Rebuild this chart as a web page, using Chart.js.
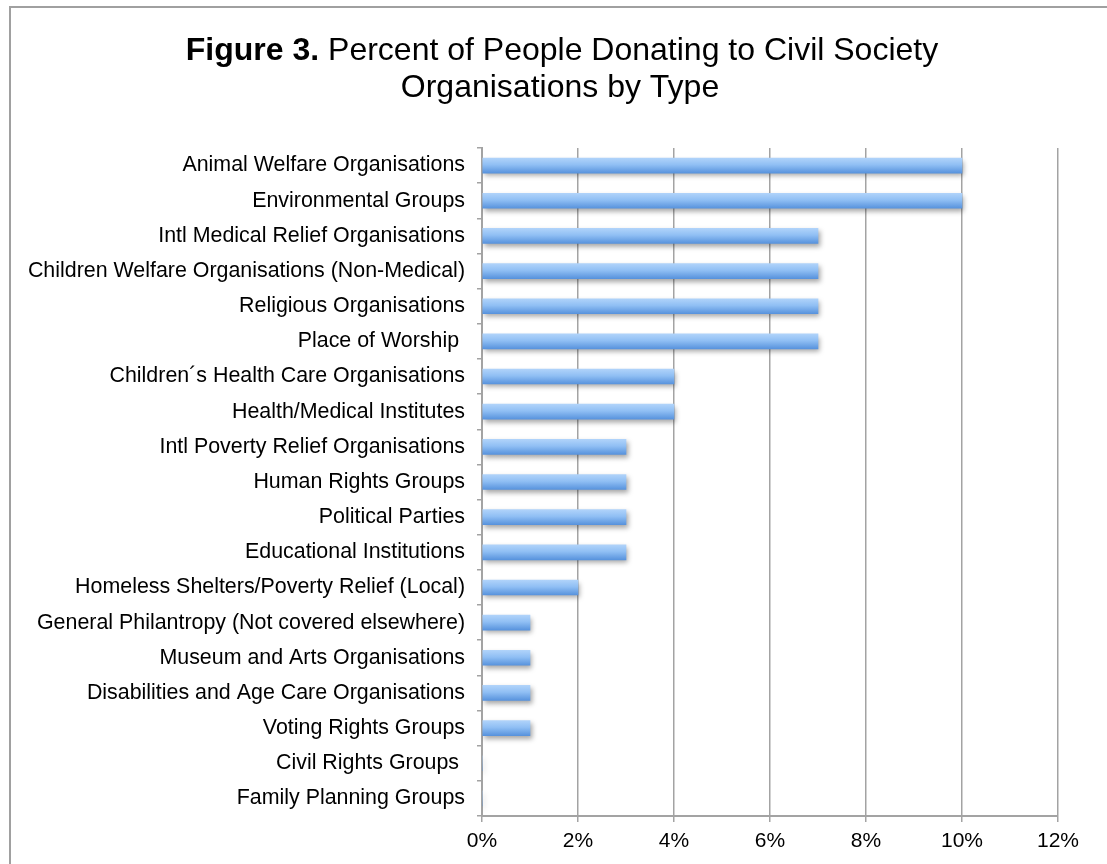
<!DOCTYPE html>
<html>
<head>
<meta charset="utf-8">
<script src="https://cdn.jsdelivr.net/npm/chart.js@4.4.1/dist/chart.umd.min.js"></script>
<style>
  html, body { margin: 0; padding: 0; background: #ffffff; }
  canvas { display: block; }
</style>
</head>
<body>
<canvas id="c" width="1107" height="864"></canvas>
<script>
const titleBold = "Figure 3.";
const titleLine1 = " Percent of People Donating to Civil Society";
const titleLine2 = "Organisations by Type";

const categories = [
  "Animal Welfare Organisations",
  "Environmental Groups",
  "Intl Medical Relief Organisations",
  "Children Welfare Organisations (Non-Medical)",
  "Religious Organisations",
  "Place of Worship ",
  "Children´s Health Care Organisations",
  "Health/Medical Institutes",
  "Intl Poverty Relief Organisations",
  "Human Rights Groups",
  "Political Parties",
  "Educational Institutions",
  "Homeless Shelters/Poverty Relief (Local)",
  "General Philantropy (Not covered elsewhere)",
  "Museum and Arts Organisations",
  "Disabilities and Age Care Organisations",
  "Voting Rights Groups",
  "Civil Rights Groups ",
  "Family Planning Groups"
];

const percentDonating = [10, 10, 7, 7, 7, 7, 4, 4, 3, 3, 3, 3, 2, 1, 1, 1, 1, 0, 0];

const xTickValues = [0, 2, 4, 6, 8, 10, 12];

const FONT = "'Liberation Sans', Arial, Helvetica, sans-serif";

const framePlugin = {
  id: 'frame',
  beforeDraw(chart) {
    const ctx = chart.ctx;
    ctx.save();
    ctx.fillStyle = '#ffffff';
    ctx.fillRect(0, 0, chart.width, chart.height);
    ctx.strokeStyle = '#a0a0a0';
    ctx.lineWidth = 2;
    ctx.beginPath();
    ctx.moveTo(10, chart.height + 5);
    ctx.lineTo(10, 7);
    ctx.lineTo(chart.width + 5, 7);
    ctx.stroke();
    ctx.restore();
  }
};

const titlePlugin = {
  id: 'twoStyleTitle',
  afterDraw(chart) {
    const ctx = chart.ctx;
    ctx.save();
    ctx.fillStyle = '#000000';
    ctx.textBaseline = 'alphabetic';
    const size = 32;
    const boldFont = 'bold ' + size + 'px ' + FONT;
    const regFont = size + 'px ' + FONT;
    ctx.font = boldFont;
    const wB = ctx.measureText(titleBold).width;
    ctx.font = regFont;
    const wR = ctx.measureText(titleLine1).width;
    const cx = 562;
    const x0 = cx - (wB + wR) / 2;
    ctx.textAlign = 'left';
    ctx.font = boldFont;
    ctx.fillText(titleBold, x0, 60);
    ctx.font = regFont;
    ctx.fillText(titleLine1, x0 + wB, 60);
    ctx.textAlign = 'center';
    ctx.fillText(titleLine2, 560, 97);
    ctx.restore();
  }
};

const shadowPlugin = {
  id: 'barShadow',
  beforeDatasetsDraw(chart) {
    const ctx = chart.ctx;
    ctx.save();
    ctx.shadowColor = 'rgba(0,0,0,0.35)';
    ctx.shadowBlur = 5;
    ctx.shadowOffsetX = 2;
    ctx.shadowOffsetY = 3;
  },
  afterDatasetsDraw(chart) {
    chart.ctx.restore();
  }
};

function barGradient(context) {
  const chart = context.chart;
  const yScale = chart.scales && chart.scales.y;
  if (!yScale || context.type !== 'data') return '#8dbdf3';
  const c = yScale.getPixelForValue(context.dataIndex);
  if (!isFinite(c)) return '#8dbdf3';
  const g = chart.ctx.createLinearGradient(0, c - 7.5, 0, c + 7.5);
  g.addColorStop(0, '#b0d3fa');
  g.addColorStop(0.45, '#90bff4');
  g.addColorStop(1, '#5893dd');
  return g;
}

new Chart(document.getElementById('c'), {
  type: 'bar',
  data: {
    labels: categories,
    datasets: [{
      data: percentDonating,
      backgroundColor: barGradient,
      borderWidth: 0,
      barThickness: 15,
      categoryPercentage: 1.0
    }]
  },
  plugins: [framePlugin, shadowPlugin, titlePlugin],
  options: {
    indexAxis: 'y',
    responsive: false,
    animation: false,
    devicePixelRatio: 1,
    layout: { padding: { top: 148, left: 0, right: 49, bottom: 0 } },
    plugins: {
      legend: { display: false },
      title: { display: false },
      tooltip: { enabled: false }
    },
    scales: {
      x: {
        min: 0,
        max: 12,
        afterFit(scale) { scale.height = 48; },
        afterBuildTicks(scale) { scale.ticks = xTickValues.map(v => ({ value: v })); },
        ticks: {
          color: '#000000',
          font: { family: FONT, size: 21 },
          padding: 7,
          callback: (v) => v + '%'
        },
        grid: {
          color: '#a3a3a3',
          lineWidth: 1.5,
          drawTicks: true,
          tickLength: 6
        },
        border: { display: true, color: '#a3a3a3', width: 2 }
      },
      y: {
        afterFit(scale) { scale.width = 482; },
        ticks: {
          color: '#000000',
          font: { family: FONT, size: 21.4 },
          padding: 12,
          autoSkip: false
        },
        grid: {
          offset: true,
          drawOnChartArea: false,
          drawTicks: true,
          tickLength: 5,
          color: '#a3a3a3',
          lineWidth: 1.5
        },
        border: { display: true, color: '#a3a3a3', width: 2 }
      }
    }
  }
});
</script>
</body>
</html>
